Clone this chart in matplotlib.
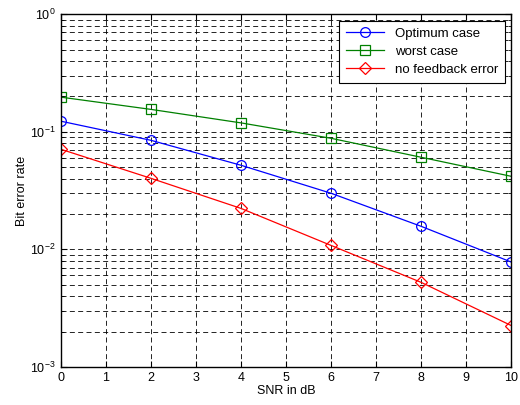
import numpy as np
import matplotlib.pyplot as plt
from matplotlib.ticker import LogLocator, NullFormatter

plt.rcParams['font.family'] = ['Liberation Sans', 'DejaVu Sans']
plt.rcParams['font.size'] = 9

# ----- data -----
snr_db = [0, 2, 4, 6, 8, 10]
ber_optimum = [0.123, 0.0846, 0.0519, 0.030, 0.0157, 0.0078]
ber_worst = [0.197, 0.155, 0.119, 0.088, 0.0607, 0.0418]
ber_no_fb = [0.071, 0.0402, 0.0223, 0.0108, 0.00524, 0.00225]

fig = plt.figure(figsize=(5.2, 4.05), dpi=100)
ax = fig.add_axes([0.117, 0.094, 0.866, 0.871])

ax.semilogy(snr_db, ber_optimum, '-o', color='blue', mfc='none', ms=7,
            lw=0.9, mew=0.9, label='Optimum case')
ax.semilogy(snr_db, ber_worst, '-s', color='green', mfc='none', ms=7,
            lw=0.9, mew=0.9, label='worst case')
ax.semilogy(snr_db, ber_no_fb, '-D', color='red', mfc='none', ms=6,
            lw=0.9, mew=0.9, label='no feedback error')

ax.set_xlim(0, 10)
ax.set_ylim(1e-3, 1)
ax.set_xticks(range(0, 11))
ax.yaxis.set_minor_locator(LogLocator(base=10, subs=np.arange(2, 10)))
ax.yaxis.set_minor_formatter(NullFormatter())

dash = (0, (6, 4))
ax.grid(True, which='major', axis='both', color='black', ls=dash, lw=0.6)
ax.grid(True, which='minor', axis='y', color='black', ls=dash, lw=0.6)

ax.tick_params(which='both', direction='in', top=True, right=True)
ax.tick_params(which='major', length=4)
ax.tick_params(which='minor', length=2)
for s in ax.spines.values():
    s.set_linewidth(1.0)

ax.set_xlabel('SNR in dB', labelpad=1)
ax.set_ylabel('Bit error rate', labelpad=2)

leg = ax.legend(loc='upper right', fancybox=False, framealpha=1,
                edgecolor='black', borderaxespad=0.5, handlelength=2.9,
                fontsize=9.5, labelspacing=0.45, borderpad=0.5)
leg.get_frame().set_linewidth(0.8)

fig.savefig('out.png', dpi=100)
